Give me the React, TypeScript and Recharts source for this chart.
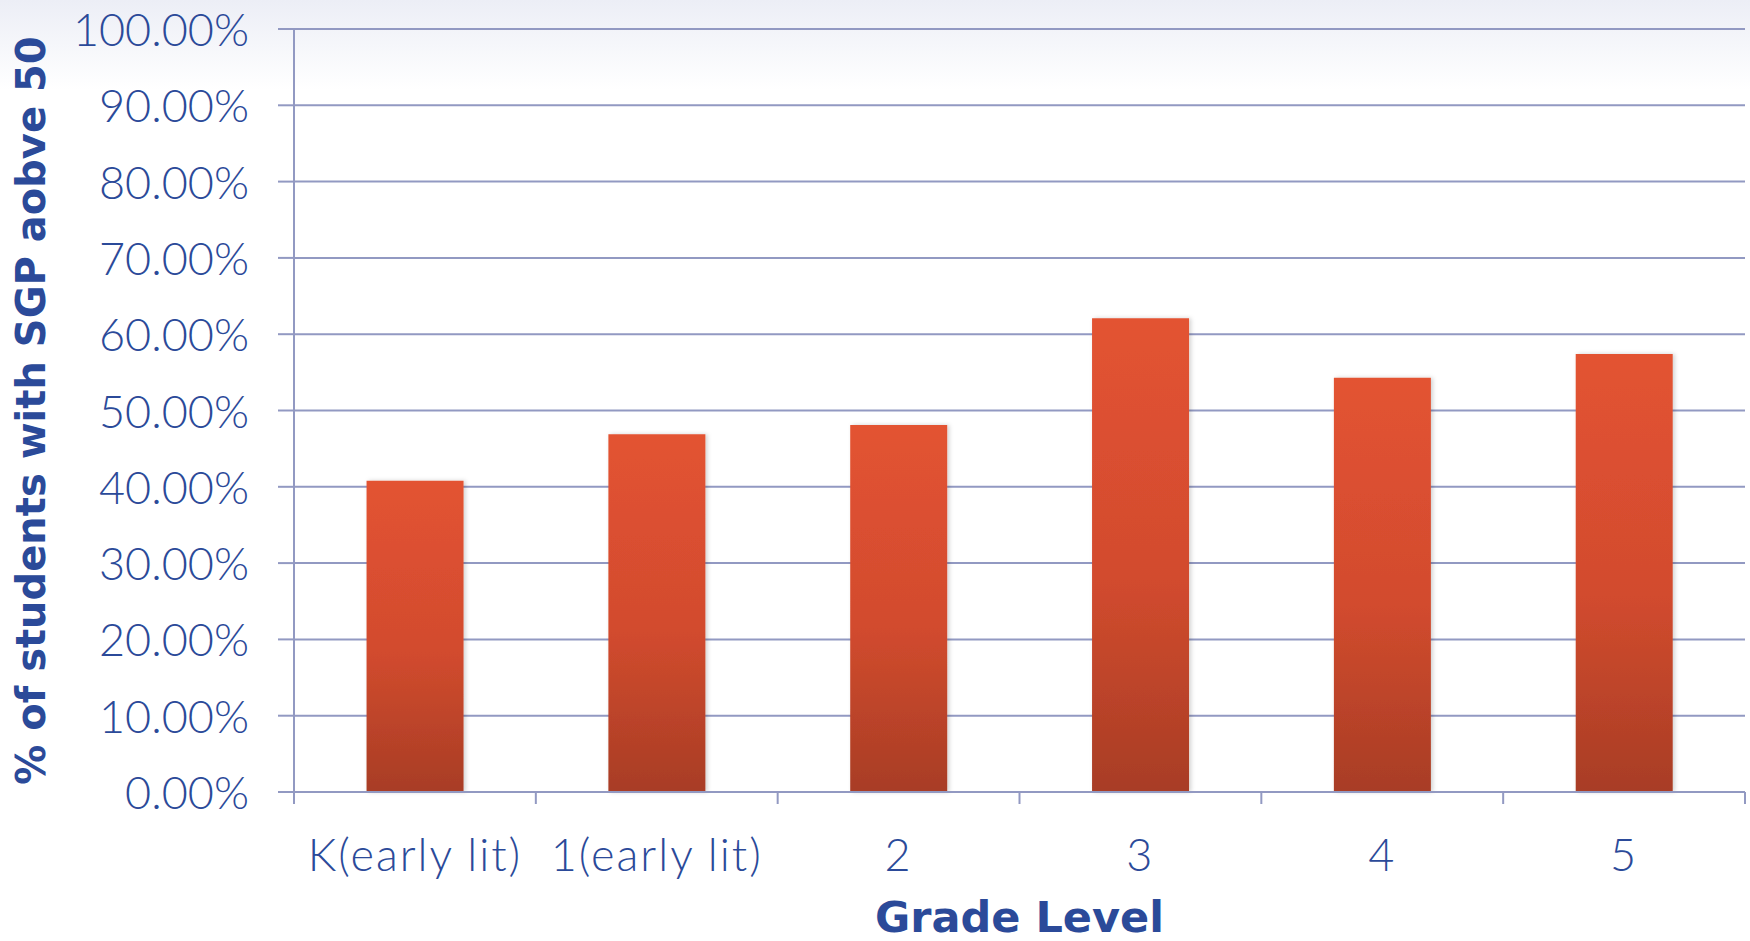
import React from 'react';
import { BarChart, Bar, XAxis, YAxis, CartesianGrid, Label } from 'recharts';

const categories = ['K(early lit)', '1(early lit)', '2', '3', '4', '5'];
const values = [40.8, 46.9, 48.1, 62.1, 54.3, 57.4];
const yTicks = [0, 10, 20, 30, 40, 50, 60, 70, 80, 90, 100];
const yAxisTitle = '% of students with SGP aobve 50';
const xAxisTitle = 'Grade Level';

const data = categories.map((c, i) => ({ grade: c, pct: values[i] }));

const BLUE = '#2B4A99';
const GRID = '#9299c2';
const FONT = 'Lato, "Open Sans", sans-serif';
const TITLE_FONT = '"DejaVu Sans", Lato, sans-serif';

const YTick = (props: any) => {
  const { y, payload } = props;
  return (
    <text x={249} y={y} textAnchor="end" dominantBaseline="central" fill={BLUE}
      fontFamily={FONT} fontWeight={300} fontSize={45}>
      {Number(payload.value).toFixed(2) + '%'}
    </text>
  );
};

const XTick = (props: any) => {
  const { x, y, payload, index } = props;
  const band = props.width ? props.width / categories.length : 241.8;
  const left = x - band / 2;
  const right = x + band / 2;
  return (
    <g>
      <line x1={left} x2={left} y1={y - 12} y2={y} stroke={GRID} strokeWidth={2} />
      {index === categories.length - 1 && (
        <line x1={right} x2={right} y1={y - 12} y2={y} stroke={GRID} strokeWidth={2} />
      )}
      <text x={x} y={y + 50} textAnchor="middle" dominantBaseline="central" fill={BLUE}
        fontFamily={FONT} fontWeight={300} fontSize={45} letterSpacing={2}>
        {payload.value}
      </text>
    </g>
  );
};

export default function App() {
  return (
    <div style={{ position: 'fixed', left: 0, top: 0, width: 1750, height: 941,
      background: 'linear-gradient(180deg, #eceef6 0px, #ffffff 90px)' }}>
      <BarChart width={1750} height={941} data={data}
        margin={{ top: 29, right: 5, bottom: 0, left: 0 }} barCategoryGap="30%">
        <defs>
          <linearGradient id="barGrad" x1="0" y1="0" x2="0" y2="1">
            <stop offset="0%" stopColor="#E35332" />
            <stop offset="55%" stopColor="#D24B2E" />
            <stop offset="100%" stopColor="#A83D25" />
          </linearGradient>
          <filter id="barShadow" x="-10%" y="-5%" width="120%" height="110%">
            <feDropShadow dx="2" dy="0" stdDeviation="2" floodColor="#000" floodOpacity="0.18" />
          </filter>
        </defs>
        <CartesianGrid vertical={false} stroke={GRID} strokeWidth={2} />
        <XAxis dataKey="grade" height={149} tickSize={12} tickMargin={0} tickLine={false}
          axisLine={{ stroke: GRID, strokeWidth: 2 }} tick={<XTick />} interval={0}>
          <Label content={(p: any) => {
            const vb = p.viewBox;
            return (
              <text x={vb.x + vb.width / 2} y={vb.y + 125} textAnchor="middle"
                dominantBaseline="central" fill={BLUE} fontFamily={TITLE_FONT}
                fontWeight="bold" fontSize={43}>{xAxisTitle}</text>
            );
          }} />
        </XAxis>
        <YAxis type="number" domain={[0, 100]} ticks={yTicks} width={294} tickSize={16}
          axisLine={{ stroke: GRID, strokeWidth: 2 }} tickLine={{ stroke: GRID, strokeWidth: 2 }}
          tick={<YTick />} interval={0}>
          <Label content={(p: any) => {
            const vb = p.viewBox;
            const cy = vb.y + vb.height / 2;
            return (
              <text x={31} y={cy} textAnchor="middle" dominantBaseline="central"
                transform={`rotate(-90, 31, ${cy})`} fill={BLUE} fontFamily={TITLE_FONT}
                fontWeight="bold" fontSize={40}>{yAxisTitle}</text>
            );
          }} />
        </YAxis>
        <Bar dataKey="pct" fill="url(#barGrad)" isAnimationActive={false}
          style={{ filter: 'url(#barShadow)' }} />
      </BarChart>
    </div>
  );
}
